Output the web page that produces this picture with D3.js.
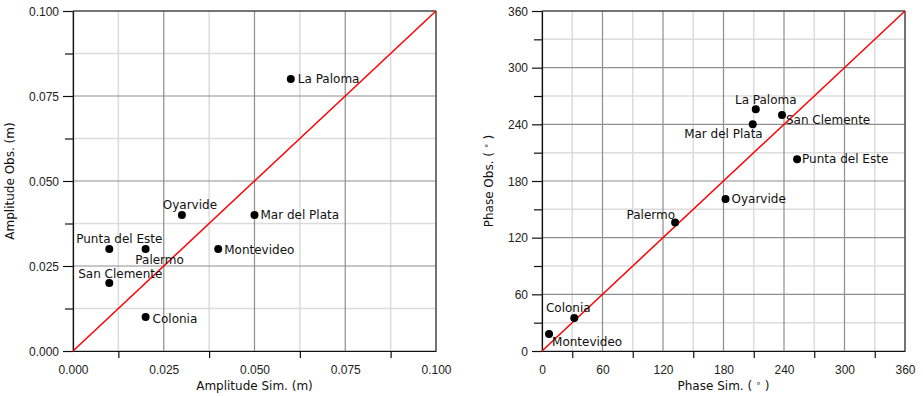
<!DOCTYPE html>
<html>
<head>
<meta charset="utf-8">
<script src="https://cdn.jsdelivr.net/npm/d3@7"></script>
<style>
  body { margin: 0; background: #fff; }
  svg { font-family: "DejaVu Sans", sans-serif; }
  .tick text { font-size: 12px; fill: #222; }
  .lbl { font-size: 12px; fill: #111; }
</style>
</head>
<body>
<div id="chart"></div>
<script>
// Station names (same order in every array)
var stations = ["La Paloma", "Oyarvide", "Mar del Plata", "Punta del Este",
                "Palermo", "Montevideo", "San Clemente", "Colonia"];

// Amplitude (m)
var ampSim = [0.06, 0.03, 0.05, 0.01, 0.02, 0.04, 0.01, 0.02];
var ampObs = [0.08, 0.04, 0.04, 0.03, 0.03, 0.03, 0.02, 0.01];

// Phase (degrees)
var phaseSim = [212, 182, 209, 253, 132, 7, 238, 32];
var phaseObs = [256, 161, 240, 203, 136, 18, 250, 35];

// Tick labels
var ampTicks = [0, 0.025, 0.05, 0.075, 0.1];
var phaseTicks = [0, 60, 120, 180, 240, 300, 360];

// Label placement per station: [dx, dy, anchor]
var ampLabelPos = [[7, 4, "start"], [8, -6, "middle"], [6, 4, "start"], [10, -6, "middle"],
                   [14, 15, "middle"], [6, 5, "start"], [11, -5, "middle"], [7, 6, "start"]];
var phaseLabelPos = [[10, -5, "middle"], [6, 4, "start"], [10, 14, "end"], [5, 4, "start"],
                     [0, -4, "end"], [3, 12, "start"], [4, 9, "start"], [-6, -6, "middle"]];

var svg = d3.select("#chart").append("svg")
    .attr("width", 923)
    .attr("height", 396);

function panel(opt) {
    var width = 363, height = 340;
    var g = svg.append("g")
        .attr("transform", "translate(" + opt.left + ",11)");

    var max = opt.ticks[opt.ticks.length - 1];
    var x = d3.scaleLinear().domain([0, max]).range([0, width]);
    var y = d3.scaleLinear().domain([0, max]).range([height, 0]);

    // minor positions halfway between major ticks
    var minor = d3.pairs(opt.ticks).map(p => (p[0] + p[1]) / 2);

    // minor grid
    g.append("g").selectAll("line").data(minor).join("line")
        .attr("x1", d => x(d)).attr("x2", d => x(d))
        .attr("y1", 0).attr("y2", height)
        .attr("stroke", "#dcdcdc").attr("stroke-width", 1.5);
    g.append("g").selectAll("line").data(minor).join("line")
        .attr("y1", d => y(d)).attr("y2", d => y(d))
        .attr("x1", 0).attr("x2", width)
        .attr("stroke", "#dcdcdc").attr("stroke-width", 1.5);

    // major grid
    g.append("g").selectAll("line").data(opt.ticks).join("line")
        .attr("x1", d => x(d)).attr("x2", d => x(d))
        .attr("y1", 0).attr("y2", height)
        .attr("stroke", "#8e8e8e").attr("stroke-width", 1.2);
    g.append("g").selectAll("line").data(opt.ticks).join("line")
        .attr("y1", d => y(d)).attr("y2", d => y(d))
        .attr("x1", 0).attr("x2", width)
        .attr("stroke", "#8e8e8e").attr("stroke-width", 1.2);

    // frame (top / right)
    g.append("line").attr("x1", 0).attr("x2", width).attr("y1", 0).attr("y2", 0)
        .attr("stroke", "#222").attr("stroke-width", 1.2);
    g.append("line").attr("x1", width).attr("x2", width).attr("y1", 0).attr("y2", height)
        .attr("stroke", "#444").attr("stroke-width", 1.2);

    // bottom axis: labels at majors, ticks only at minors
    var xAxis = g.append("g")
        .attr("transform", "translate(0," + height + ")")
        .call(d3.axisBottom(x).tickValues(opt.ticks).tickFormat(opt.fmt)
            .tickSize(0).tickPadding(14).tickSizeOuter(0));
    xAxis.select(".domain").attr("stroke", "#111").attr("stroke-width", 1.2);
    g.append("g")
        .attr("transform", "translate(0," + height + ")")
        .call(d3.axisBottom(x).tickValues(minor).tickFormat("").tickSize(7).tickSizeOuter(0))
        .call(a => a.select(".domain").remove())
        .selectAll("line").attr("stroke", "#111").attr("stroke-width", 1.2);

    // left axis: major and minor ticks
    var yAxis = g.append("g")
        .call(d3.axisLeft(y).tickValues(opt.ticks).tickFormat(opt.fmt)
            .tickSize(10).tickPadding(4).tickSizeOuter(0));
    yAxis.select(".domain").attr("stroke", "#111").attr("stroke-width", 1.2);
    yAxis.selectAll(".tick line").attr("stroke", "#111").attr("stroke-width", 1.2);
    yAxis.selectAll(".tick text").attr("dy", "0.36em");
    g.append("g")
        .call(d3.axisLeft(y).tickValues(minor).tickFormat("").tickSize(8).tickSizeOuter(0))
        .call(a => a.select(".domain").remove())
        .selectAll("line").attr("stroke", "#111").attr("stroke-width", 1.2);

    // 1:1 line
    g.append("line")
        .attr("x1", x(0)).attr("y1", y(0))
        .attr("x2", x(max)).attr("y2", y(max))
        .attr("stroke", "#ff0000").attr("stroke-width", 1.5);

    // points
    var pts = stations.map((s, i) => ({ name: s, sim: opt.sim[i], obs: opt.obs[i], pos: opt.pos[i] }));
    g.selectAll(".dot").data(pts).join("circle")
        .attr("class", "dot")
        .attr("cx", d => x(d.sim))
        .attr("cy", d => y(d.obs))
        .attr("r", 4)
        .attr("fill", "#000");

    g.selectAll(".lbl").data(pts).join("text")
        .attr("class", "lbl")
        .attr("x", d => x(d.sim) + d.pos[0])
        .attr("y", d => y(d.obs) + d.pos[1])
        .attr("text-anchor", d => d.pos[2])
        .text(d => d.name);

    // axis titles
    var xt = g.append("text")
        .attr("x", width / 2).attr("y", height + 39)
        .attr("text-anchor", "middle")
        .attr("font-size", 12).attr("fill", "#111");
    opt.xTitle(xt);

    var yt = g.append("text")
        .attr("transform", "translate(" + opt.yTitleX + "," + height / 2 + ") rotate(-90)")
        .attr("text-anchor", "middle")
        .attr("font-size", 12).attr("fill", "#111");
    opt.yTitle(yt);
}

function degTitle(label) {
    return function(t) {
        t.append("tspan").text(label + " ( ");
        t.append("tspan").attr("dy", -4).attr("font-size", 8).text("\u2218");
        t.append("tspan").attr("dy", 4).text(" )");
    };
}

panel({
    left: 73,
    ticks: ampTicks,
    fmt: d3.format(".3f"),
    sim: ampSim, obs: ampObs, pos: ampLabelPos,
    xTitle: t => t.text("Amplitude Sim. (m)"),
    yTitle: t => t.text("Amplitude Obs. (m)"),
    yTitleX: -59
});

panel({
    left: 542,
    ticks: phaseTicks,
    fmt: d3.format("d"),
    sim: phaseSim, obs: phaseObs, pos: phaseLabelPos,
    xTitle: degTitle("Phase Sim."),
    yTitle: degTitle("Phase Obs."),
    yTitleX: -49
});
</script>
</body>
</html>
